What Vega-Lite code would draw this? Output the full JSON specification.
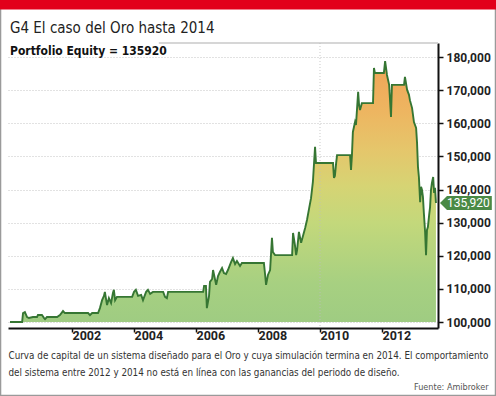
{
  "$schema": "https://vega.github.io/schema/vega-lite/v6.json",
  "width": 430,
  "height": 285,
  "autosize": "none",
  "padding": {"left": 8, "top": 43, "right": 58, "bottom": 68},
  "background": "white",
  "config": {
    "view": {"stroke": null},
    "font": "DejaVu Sans Condensed, Roboto, sans-serif"
  },
  "title": {
    "text": "G4 El caso del Oro hasta 2014",
    "subtitle": "Portfolio Equity = 135920",
    "anchor": "start",
    "frame": "group",
    "orient": "top",
    "offset": -57,
    "dx": 2,
    "font": "DejaVu Sans Condensed, Roboto, sans-serif",
    "fontSize": 15,
    "fontWeight": "normal",
    "color": "#222",
    "subtitleFont": "DejaVu Sans Condensed, Roboto, sans-serif",
    "subtitleFontSize": 12,
    "subtitleFontWeight": "bold",
    "subtitleColor": "#111",
    "subtitlePadding": 10
  },
  "datasets": {
    "equity": [
      {"year": 2000.00, "equity": 100000},
      {"year": 2000.39, "equity": 100000},
      {"year": 2000.42, "equity": 102700},
      {"year": 2000.48, "equity": 103000},
      {"year": 2000.55, "equity": 101500},
      {"year": 2000.61, "equity": 101200},
      {"year": 2000.74, "equity": 101500},
      {"year": 2000.87, "equity": 101500},
      {"year": 2000.90, "equity": 102100},
      {"year": 2001.03, "equity": 102100},
      {"year": 2001.10, "equity": 101200},
      {"year": 2001.13, "equity": 100900},
      {"year": 2001.19, "equity": 101500},
      {"year": 2001.52, "equity": 101500},
      {"year": 2001.61, "equity": 102100},
      {"year": 2001.71, "equity": 103300},
      {"year": 2001.77, "equity": 102700},
      {"year": 2002.52, "equity": 102700},
      {"year": 2002.58, "equity": 102100},
      {"year": 2002.65, "equity": 102700},
      {"year": 2002.84, "equity": 102700},
      {"year": 2002.90, "equity": 104200},
      {"year": 2002.97, "equity": 106600},
      {"year": 2003.03, "equity": 107900},
      {"year": 2003.06, "equity": 109100},
      {"year": 2003.13, "equity": 105100},
      {"year": 2003.19, "equity": 107200},
      {"year": 2003.26, "equity": 105700},
      {"year": 2003.32, "equity": 108800},
      {"year": 2003.35, "equity": 109700},
      {"year": 2003.39, "equity": 106600},
      {"year": 2003.45, "equity": 107600},
      {"year": 2003.94, "equity": 107600},
      {"year": 2004.00, "equity": 109100},
      {"year": 2004.06, "equity": 109700},
      {"year": 2004.13, "equity": 107900},
      {"year": 2004.23, "equity": 108200},
      {"year": 2004.29, "equity": 106600},
      {"year": 2004.39, "equity": 109100},
      {"year": 2004.45, "equity": 109700},
      {"year": 2004.52, "equity": 108500},
      {"year": 2004.61, "equity": 109100},
      {"year": 2004.94, "equity": 109100},
      {"year": 2005.00, "equity": 107600},
      {"year": 2005.06, "equity": 107200},
      {"year": 2005.10, "equity": 109100},
      {"year": 2006.23, "equity": 109100},
      {"year": 2006.26, "equity": 110900},
      {"year": 2006.32, "equity": 110900},
      {"year": 2006.35, "equity": 104200},
      {"year": 2006.42, "equity": 107900},
      {"year": 2006.45, "equity": 112100},
      {"year": 2006.52, "equity": 113000},
      {"year": 2006.55, "equity": 115700},
      {"year": 2006.65, "equity": 111200},
      {"year": 2006.71, "equity": 113900},
      {"year": 2006.77, "equity": 115100},
      {"year": 2006.84, "equity": 116300},
      {"year": 2006.90, "equity": 114800},
      {"year": 2006.97, "equity": 114500},
      {"year": 2007.03, "equity": 115700},
      {"year": 2007.13, "equity": 118100},
      {"year": 2007.19, "equity": 119300},
      {"year": 2007.26, "equity": 117500},
      {"year": 2007.32, "equity": 118400},
      {"year": 2007.42, "equity": 116900},
      {"year": 2007.48, "equity": 117800},
      {"year": 2008.19, "equity": 117800},
      {"year": 2008.23, "equity": 114200},
      {"year": 2008.26, "equity": 111200},
      {"year": 2008.32, "equity": 114200},
      {"year": 2008.39, "equity": 115700},
      {"year": 2008.45, "equity": 125400},
      {"year": 2008.48, "equity": 121100},
      {"year": 2008.55, "equity": 120200},
      {"year": 2009.10, "equity": 120200},
      {"year": 2009.13, "equity": 126900},
      {"year": 2009.19, "equity": 123300},
      {"year": 2009.23, "equity": 120200},
      {"year": 2009.26, "equity": 121700},
      {"year": 2009.32, "equity": 127200},
      {"year": 2009.39, "equity": 123900},
      {"year": 2009.45, "equity": 126000},
      {"year": 2009.52, "equity": 128400},
      {"year": 2009.58, "equity": 130800},
      {"year": 2009.65, "equity": 134400},
      {"year": 2009.71, "equity": 137400},
      {"year": 2009.77, "equity": 142300},
      {"year": 2009.84, "equity": 152900},
      {"year": 2009.87, "equity": 148000},
      {"year": 2010.42, "equity": 148000},
      {"year": 2010.45, "equity": 143500},
      {"year": 2010.48, "equity": 144100},
      {"year": 2010.52, "equity": 148000},
      {"year": 2010.55, "equity": 150400},
      {"year": 2010.97, "equity": 150400},
      {"year": 2011.00, "equity": 145900},
      {"year": 2011.03, "equity": 150400},
      {"year": 2011.06, "equity": 157400},
      {"year": 2011.13, "equity": 160400},
      {"year": 2011.16, "equity": 159500},
      {"year": 2011.23, "equity": 169500},
      {"year": 2011.26, "equity": 165500},
      {"year": 2011.29, "equity": 164000},
      {"year": 2011.35, "equity": 166100},
      {"year": 2011.71, "equity": 166100},
      {"year": 2011.74, "equity": 176700},
      {"year": 2011.77, "equity": 175200},
      {"year": 2012.06, "equity": 175200},
      {"year": 2012.10, "equity": 178800},
      {"year": 2012.16, "equity": 174600},
      {"year": 2012.23, "equity": 171600},
      {"year": 2012.29, "equity": 161900},
      {"year": 2012.32, "equity": 171600},
      {"year": 2012.71, "equity": 171600},
      {"year": 2012.74, "equity": 174000},
      {"year": 2012.81, "equity": 170100},
      {"year": 2012.87, "equity": 168600},
      {"year": 2012.90, "equity": 167000},
      {"year": 2012.97, "equity": 164600},
      {"year": 2013.03, "equity": 160400},
      {"year": 2013.10, "equity": 158600},
      {"year": 2013.13, "equity": 154100},
      {"year": 2013.16, "equity": 146800},
      {"year": 2013.19, "equity": 143800},
      {"year": 2013.23, "equity": 136200},
      {"year": 2013.26, "equity": 140800},
      {"year": 2013.29, "equity": 139900},
      {"year": 2013.32, "equity": 137800},
      {"year": 2013.35, "equity": 132900},
      {"year": 2013.39, "equity": 127200},
      {"year": 2013.42, "equity": 120200},
      {"year": 2013.45, "equity": 127800},
      {"year": 2013.48, "equity": 128700},
      {"year": 2013.52, "equity": 132300},
      {"year": 2013.55, "equity": 134700},
      {"year": 2013.58, "equity": 139900},
      {"year": 2013.61, "equity": 142000},
      {"year": 2013.65, "equity": 143800},
      {"year": 2013.68, "equity": 139000},
      {"year": 2013.71, "equity": 140500},
      {"year": 2013.74, "equity": 135920}
    ],
    "last": [{"year": 2013.806, "equity": 135920, "label": "135,920"}]
  },
  "layer": [
    {
      "data": {"name": "equity"},
      "mark": {
        "type": "area",
        "color": {
          "gradient": "linear",
          "x1": 0, "y1": 1, "x2": 0, "y2": 0,
          "stops": [
            {"offset": 0, "color": "#9fcc82"},
            {"offset": 0.15, "color": "#a7d081"},
            {"offset": 0.38, "color": "#c3d87b"},
            {"offset": 0.52, "color": "#d6d474"},
            {"offset": 0.66, "color": "#e5c66b"},
            {"offset": 0.8, "color": "#edb661"},
            {"offset": 1, "color": "#f1a457"}
          ]
        }
      },
      "encoding": {
        "x": {
          "field": "year", "type": "quantitative",
          "scale": {"domain": [1999.935, 2013.806], "nice": false, "zero": false},
          "axis": {
            "values": [2002, 2004, 2006, 2008, 2010, 2012],
            "format": "d",
            "grid": false,
            "domainColor": "#111",
            "domainWidth": 2,
            "tickColor": "#111",
            "tickWidth": 1.5,
            "tickSize": 4,
            "labelAlign": "left",
            "labelBaseline": "top",
            "labelPadding": -3,
            "labelDx": 3,
            "labelFont": "Roboto",
            "labelFontSize": 12.5,
            "labelFontWeight": "bold",
            "labelColor": "#222",
            "labelOverlap": false,
            "labelBound": false,
            "title": [
              "Curva de capital de un sistema diseñado para el Oro y cuya simulación termina en 2014. El comportamiento",
              "del sistema entre 2012 y 2014 no está en línea con las ganancias del periodo de diseño."
            ],
            "titleFont": "DejaVu Sans Condensed, Roboto, sans-serif",
            "titleFontSize": 9.8,
            "titleFontWeight": "normal",
            "titleColor": "#333",
            "titleAnchor": "start",
            "titleAlign": "left",
            "titleBaseline": "alphabetic",
            "titleX": 0,
            "titleY": 30,
            "titleLineHeight": 17
          }
        },
        "y": {
          "field": "equity", "type": "quantitative",
          "scale": {"domain": [98190, 184260], "nice": false, "zero": false},
          "axis": {
            "orient": "right",
            "values": [100000, 110000, 120000, 130000, 140000, 150000, 160000, 170000, 180000],
            "tickCount": 9,
            "format": ",d",
            "grid": true,
            "gridColor": "#c4c4c4",
            "gridDash": [1, 2],
            "gridWidth": 1,
            "domainColor": "#111",
            "domainWidth": 2,
            "tickColor": "#111",
            "tickWidth": 1.5,
            "tickSize": 5,
            "labelPadding": 3,
            "labelFont": "Roboto",
            "labelFontSize": 12,
            "labelFontWeight": "bold",
            "labelColor": "#222",
            "labelOverlap": false,
            "labelBound": false,
            "title": "Fuente: Amibroker",
            "titleAngle": 0,
            "titleAlign": "right",
            "titleAnchor": "start",
            "titleBaseline": "alphabetic",
            "titleX": 50,
            "titleY": 346,
            "titleFont": "DejaVu Sans Condensed, Roboto, sans-serif",
            "titleFontSize": 9,
            "titleFontWeight": "normal",
            "titleColor": "#555"
          }
        },
        "y2": {"datum": 100000}
      }
    },
    {
      "data": {"values": [{}]},
      "mark": {"type": "rect", "filled": false, "stroke": "#9a9a9a", "strokeWidth": 1.5},
      "encoding": {
        "x": {"datum": 1999.694, "type": "quantitative"},
        "x2": {"datum": 2015.661},
        "y": {"datum": 197093, "type": "quantitative"},
        "y2": {"datum": 77803}
      }
    },
    {
      "data": {"values": [{}]},
      "mark": {"type": "rect", "fill": "#e2001a"},
      "encoding": {
        "x": {"datum": 1999.677, "type": "quantitative"},
        "x2": {"datum": 2015.677},
        "y": {"datum": 197244, "type": "quantitative"},
        "y2": {"datum": 194400}
      }
    },
    {
      "data": {"values": [{}]},
      "mark": {"type": "rule", "color": "#c8c8c8", "strokeWidth": 1.5},
      "encoding": {
        "x": {"datum": 2004.8, "type": "quantitative"},
        "x2": {"datum": 2013.806},
        "y": {"datum": 184260, "type": "quantitative"}
      }
    },
    {
      "data": {"values": [{}]},
      "mark": {"type": "rule", "color": "#bdbdbd", "strokeDash": [1, 2], "strokeWidth": 1, "opacity": 0.8},
      "encoding": {
        "x": {"datum": 2010, "type": "quantitative"},
        "y": {"datum": 184260, "type": "quantitative"},
        "y2": {"datum": 98190}
      }
    },
    {
      "data": {"name": "equity"},
      "mark": {"type": "line", "color": "#367633", "strokeWidth": 1.9},
      "encoding": {
        "x": {"field": "year", "type": "quantitative"},
        "y": {"field": "equity", "type": "quantitative"}
      }
    },
    {
      "data": {"name": "last"},
      "mark": {
        "type": "point",
        "shape": "M0,0 L1,-1 L7.4,-1 L7.4,1 L1,1 Z",
        "size": 196,
        "filled": true,
        "opacity": 1,
        "color": "#4a8a45",
        "xOffset": 2
      },
      "encoding": {
        "x": {"field": "year", "type": "quantitative"},
        "y": {"field": "equity", "type": "quantitative"}
      }
    },
    {
      "data": {"name": "last"},
      "mark": {"type": "text", "align": "left", "baseline": "middle", "dx": 9, "color": "white", "font": "Roboto", "fontSize": 12},
      "encoding": {
        "x": {"field": "year", "type": "quantitative"},
        "y": {"field": "equity", "type": "quantitative"},
        "text": {"field": "label"}
      }
    }
  ]
}
